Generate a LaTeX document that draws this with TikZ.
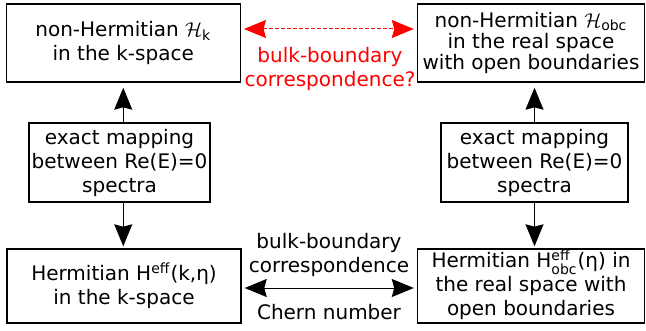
\documentclass[tikz,border=0pt]{standalone}
\usepackage{amsmath}
\usepackage{fontspec}
\setmainfont{DejaVu Sans}
\usetikzlibrary{arrows.meta}
\begin{document}
\begin{tikzpicture}[>={Stealth[length=11pt,width=9pt,inset=1.2pt]},
  box/.style={draw,line width=0.7pt,align=center,inner sep=0pt,font=\fontsize{10pt}{12pt}\selectfont},
  lnk/.style={line width=0.5pt,<->,shorten <=1.5pt,shorten >=1.5pt},
  lbl/.style={align=center,font=\fontsize{10pt}{12pt}\selectfont}]
 \useasboundingbox (0,0) rectangle (323pt,-165.5pt);
 \begin{scope}[x=0.5pt,y=-0.5pt]
  % non-Hermitian models
  \node[box,minimum width=117pt,minimum height=39pt] (hk) at (123.25,43) {non-Hermitian $\mathcal{H}_{\text{k}}$\\in the k-space};
  \node[box,minimum width=113.5pt,minimum height=39pt,font=\fontsize{10pt}{10.7pt}\selectfont] (hobc) at (531,43) {non-Hermitian $\mathcal{H}_{\text{obc}}$\\in the real space\\with open boundaries};
  % mappings
  \node[box,minimum width=90.5pt,minimum height=39.5pt] (mapL) at (119.5,162.5) {exact mapping\\between Re(E)=0\\spectra};
  \node[box,minimum width=93.5pt,minimum height=39.5pt] (mapR) at (534.5,162.5) {exact mapping\\between Re(E)=0\\spectra};
  % Hermitian models
  \node[box,minimum width=117pt,minimum height=37pt] (heffL) at (124,286) {Hermitian H$^{\text{eff}}$(k,η)\\in the k-space};
  \node[box,minimum width=113.5pt,minimum height=37pt] (heffR) at (531,286) {Hermitian H\smash{$^{\text{eff}}_{\text{obc}}$}(η) in\\the real space with\\open boundaries};
  \draw[line width=0.5pt,->,shorten >=2.5pt] (mapL.north -| hk.south) -- (hk.south);
  \draw[line width=0.5pt,->,shorten >=2.5pt] (mapR.north) -- (hobc.south -| mapR.north);
  \draw[line width=0.5pt,->,shorten >=1pt] (mapL.south -| hk.south) -- (heffL.north -| hk.south);
  \draw[line width=0.5pt,->,shorten >=1pt] (mapR.south) -- (heffR.north -| mapR.south);
  \draw[lnk,red,dash pattern=on 2pt off 1pt] (hk.east |- 0,29) -- (hobc.west |- 0,29);
  \draw[lnk] (heffL.east |- 0,288) -- (heffR.west |- 0,288);
  \node[lbl,red] (bbq) at (330,69) {bulk-boundary\\correspondence?};
  \node[lbl] (bbc) at (329,255) {bulk-boundary\\correspondence};
  \node[lbl] (chern) at (329,312) {Chern number};
 \end{scope}
\end{tikzpicture}
\end{document}
